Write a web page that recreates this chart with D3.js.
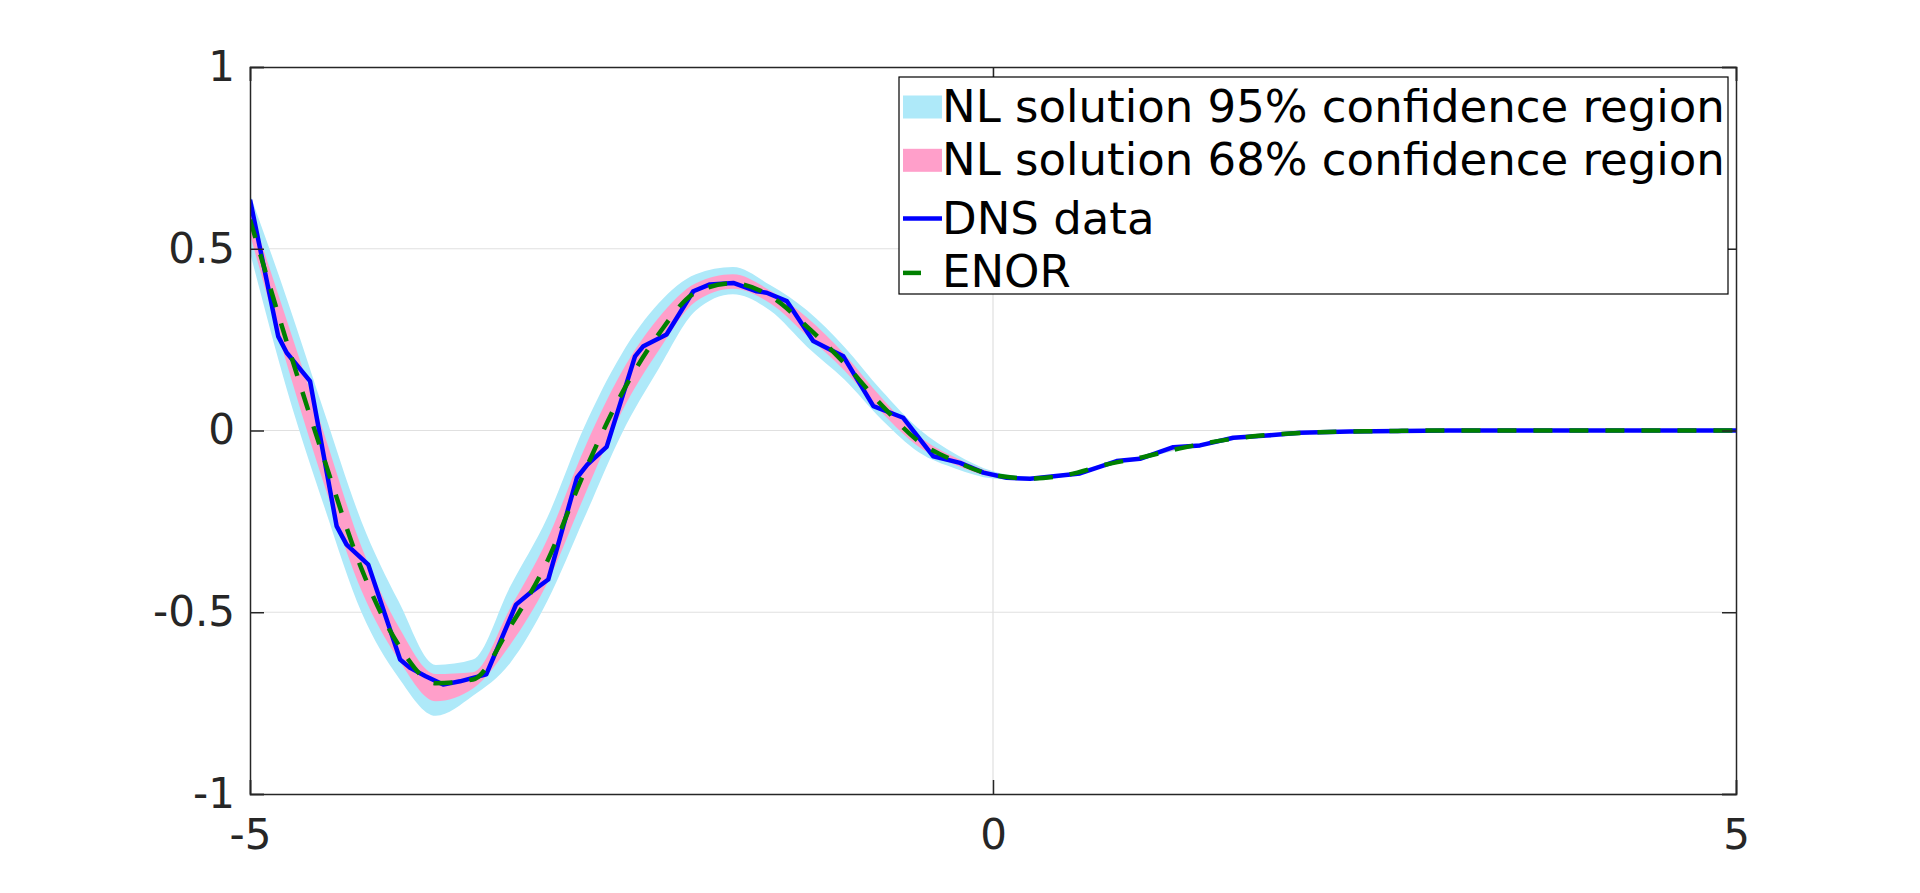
<!DOCTYPE html>
<html>
<head>
<meta charset="utf-8">
<script src="https://cdn.jsdelivr.net/npm/d3@7"></script>
<style>
  html, body { margin: 0; padding: 0; background: #fff; }
  text { font-family: "DejaVu Sans", sans-serif; }
</style>
</head>
<body>
<div id="wrapper"></div>
<script>
// grid for the ENOR solution and the NL confidence bands
const gridX = [-5, -4.75, -4.5, -4.25, -4, -3.75, -3.5, -3.25, -3, -2.75, -2.5, -2.25, -2, -1.75, -1.5,
  -1.25, -1, -0.75, -0.5, -0.25, 0, 0.25, 0.5, 0.75, 1, 1.25, 1.5, 1.75, 2, 2.25, 2.5, 2.75, 3,
  3.5, 4, 4.5, 5];
const enor = [0.58, 0.24, -0.08, -0.38, -0.59, -0.695, -0.685, -0.54, -0.36, -0.115, 0.10, 0.265, 0.38, 0.405, 0.37,
  0.285, 0.185, 0.07, -0.03, -0.085, -0.122, -0.132, -0.122, -0.095, -0.074, -0.05, -0.03, -0.016, -0.008, -0.004, -0.002, -0.001, 0,
  0, 0, 0, 0];
const lo95 = [0.49, 0.11, -0.21, -0.50, -0.68, -0.785, -0.73, -0.64, -0.47, -0.24, -0.01, 0.17, 0.33, 0.375, 0.33,
  0.23, 0.14, 0.03, -0.06, -0.105, -0.132, -0.137, -0.126, -0.099, -0.078, -0.053, -0.033, -0.019, -0.010, -0.006, -0.004, -0.002, -0.001,
  -0.001, -0.001, -0.001, -0.001];
const hi95 = [0.65, 0.36, 0.05, -0.25, -0.47, -0.645, -0.63, -0.43, -0.24, 0.01, 0.21, 0.35, 0.43, 0.45, 0.40,
  0.33, 0.23, 0.11, 0.005, -0.065, -0.112, -0.127, -0.118, -0.091, -0.070, -0.047, -0.027, -0.013, -0.006, -0.002, 0, 0.001, 0.001,
  0.001, 0.001, 0.001, 0.001];
const lo68 = [0.54, 0.18, -0.15, -0.44, -0.63, -0.745, -0.71, -0.59, -0.42, -0.18, 0.05, 0.22, 0.355, 0.39, 0.35,
  0.26, 0.165, 0.05, -0.045, -0.095, -0.128, -0.135, -0.124, -0.097, -0.076, -0.051, -0.031, -0.017, -0.009, -0.005, -0.003, -0.001, 0,
  0, 0, 0, 0];
const hi68 = [0.61, 0.30, -0.01, -0.32, -0.54, -0.67, -0.665, -0.49, -0.30, -0.05, 0.16, 0.31, 0.405, 0.43, 0.385,
  0.31, 0.21, 0.09, -0.015, -0.075, -0.116, -0.129, -0.120, -0.093, -0.072, -0.049, -0.029, -0.015, -0.007, -0.003, -0.001, 0, 0,
  0, 0, 0, 0];

// DNS data (piecewise linear)
const dnsX = [-5, -4.81, -4.753, -4.596, -4.417, -4.35, -4.204, -3.99, -3.923, -3.818, -3.70, -3.587, -3.41, -3.21,
  -3.116, -2.993, -2.80, -2.73, -2.60, -2.409, -2.353, -2.197, -2.017, -1.905, -1.748, -1.59, -1.523, -1.388,
  -1.21, -1.098, -1.007, -0.805, -0.604, -0.402, -0.222, -0.065, 0.092, 0.249, 0.585, 0.832, 0.989, 1.213,
  1.393, 1.617, 1.842, 2.066, 2.40, 3.07, 5];
const dnsY = [0.635, 0.259, 0.214, 0.136, -0.263, -0.314, -0.369, -0.63, -0.653, -0.676, -0.699, -0.690, -0.671, -0.479,
  -0.447, -0.41, -0.130, -0.094, -0.045, 0.204, 0.232, 0.264, 0.383, 0.402, 0.406, 0.383, 0.379, 0.356,
  0.246, 0.223, 0.204, 0.067, 0.035, -0.071, -0.089, -0.116, -0.130, -0.133, -0.118, -0.084, -0.078, -0.046,
  -0.041, -0.020, -0.014, -0.006, -0.003, 0, 0];

const xTicks = [-5, 0, 5];
const yTicks = [-1, -0.5, 0, 0.5, 1];
const xTickLabels = ["-5", "0", "5"];
const yTickLabels = ["-1", "-0.5", "0", "0.5", "1"];
const gridXVals = [0];
const gridYVals = [-0.5, 0, 0.5];

const legendItems = [
  { label: "NL solution 95% confidence region", type: "patch", color: "#aee9f9" },
  { label: "NL solution 68% confidence region", type: "patch", color: "#ff9fca" },
  { label: "DNS data", type: "line", color: "#0000ff" },
  { label: "ENOR", type: "dash", color: "#008000" }
];

const width = 1920, height = 893;
const margin = { top: 67, right: 184, bottom: 99, left: 250 };
const boundedWidth = width - margin.left - margin.right;
const boundedHeight = height - margin.top - margin.bottom;

const svg = d3.select("#wrapper").append("svg")
  .attr("width", width).attr("height", height);

const bounds = svg.append("g")
  .attr("transform", `translate(${margin.left},${margin.top})`);

const xScale = d3.scaleLinear().domain([-5, 5]).range([0, boundedWidth]);
const yScale = d3.scaleLinear().domain([-1, 1]).range([boundedHeight, 0]);

svg.append("defs").append("clipPath").attr("id", "clip")
  .append("rect").attr("width", boundedWidth).attr("height", boundedHeight);

// grid
const gridColor = "#e0e0e0";
bounds.selectAll(".gy").data(gridYVals).join("line")
  .attr("x1", 0).attr("x2", boundedWidth)
  .attr("y1", d => yScale(d)).attr("y2", d => yScale(d))
  .attr("stroke", gridColor).attr("stroke-width", 1.2);
bounds.selectAll(".gx").data(gridXVals).join("line")
  .attr("y1", 0).attr("y2", boundedHeight)
  .attr("x1", d => xScale(d)).attr("x2", d => xScale(d))
  .attr("stroke", gridColor).attr("stroke-width", 1.2);

// data
const plot = bounds.append("g").attr("clip-path", "url(#clip)");
const idx = d3.range(gridX.length);

const area95 = d3.area().curve(d3.curveMonotoneX)
  .x(i => xScale(gridX[i])).y0(i => yScale(lo95[i])).y1(i => yScale(hi95[i]));
const area68 = d3.area().curve(d3.curveMonotoneX)
  .x(i => xScale(gridX[i])).y0(i => yScale(lo68[i])).y1(i => yScale(hi68[i]));

plot.append("path").attr("d", area95(idx)).attr("fill", legendItems[0].color);
plot.append("path").attr("d", area68(idx)).attr("fill", legendItems[1].color);

const dnsLine = d3.line().x(i => xScale(dnsX[i])).y(i => yScale(dnsY[i]));
plot.append("path").attr("d", dnsLine(d3.range(dnsX.length)))
  .attr("fill", "none").attr("stroke", legendItems[2].color)
  .attr("stroke-width", 4.5).attr("stroke-linejoin", "round");

const enorLine = d3.line().curve(d3.curveMonotoneX)
  .x(i => xScale(gridX[i])).y(i => yScale(enor[i]));
plot.append("path").attr("d", enorLine(idx))
  .attr("fill", "none").attr("stroke", legendItems[3].color)
  .attr("stroke-width", 4.5).attr("stroke-dasharray", "19,17");

// axes box and ticks
const axisColor = "#262626";
const tickLen = 14;
const xAxisBottom = d3.axisBottom(xScale).tickValues(xTicks).tickSize(-tickLen)
  .tickPadding(25).tickFormat((d, i) => xTickLabels[i]);
const xAxisTop = d3.axisTop(xScale).tickValues(xTicks).tickSize(-tickLen).tickFormat("");
const yAxisLeft = d3.axisLeft(yScale).tickValues(yTicks).tickSize(-tickLen)
  .tickPadding(15).tickFormat((d, i) => yTickLabels[i]);
const yAxisRight = d3.axisRight(yScale).tickValues(yTicks).tickSize(-tickLen).tickFormat("");

function styleAxis(g) {
  g.selectAll("path, line").attr("stroke", axisColor).attr("stroke-width", 1.5);
  g.selectAll("text").attr("fill", axisColor).style("font-size", "42px")
    .style("font-family", "'DejaVu Sans', sans-serif");
}

bounds.append("g").attr("transform", `translate(0,${boundedHeight})`).call(xAxisBottom).call(styleAxis);
bounds.append("g").call(xAxisTop).call(styleAxis);
bounds.append("g").call(yAxisLeft).call(styleAxis);
bounds.append("g").attr("transform", `translate(${boundedWidth},0)`).call(yAxisRight).call(styleAxis);

// legend
const legend = svg.append("g").attr("transform", "translate(899,77)");
const legendW = 829, legendH = 217, rowH = 53.3;
legend.append("rect").attr("width", legendW).attr("height", legendH)
  .attr("fill", "#fff").attr("stroke", "#000").attr("stroke-width", 1.2);

const rows = legend.selectAll(".row").data(legendItems).join("g")
  .attr("transform", (d, i) => `translate(0,${30 + i * rowH})`);

rows.filter(d => d.type === "patch").append("rect")
  .attr("x", 4).attr("y", -11.5).attr("width", 39).attr("height", 23)
  .attr("fill", d => d.color);
rows.filter(d => d.type === "line").append("line")
  .attr("x1", 4).attr("x2", 43).attr("y1", 5).attr("y2", 5)
  .attr("stroke", d => d.color).attr("stroke-width", 4.5);
rows.filter(d => d.type === "dash").append("line")
  .attr("x1", 4).attr("x2", 22).attr("y1", 6).attr("y2", 6)
  .attr("stroke", d => d.color).attr("stroke-width", 4.5);

rows.append("text")
  .attr("x", 43).attr("y", (d, i) => i < 2 ? 15 : 20)
  .style("font-size", "45px").attr("fill", "#000")
  .text(d => d.label);
</script>
</body>
</html>
